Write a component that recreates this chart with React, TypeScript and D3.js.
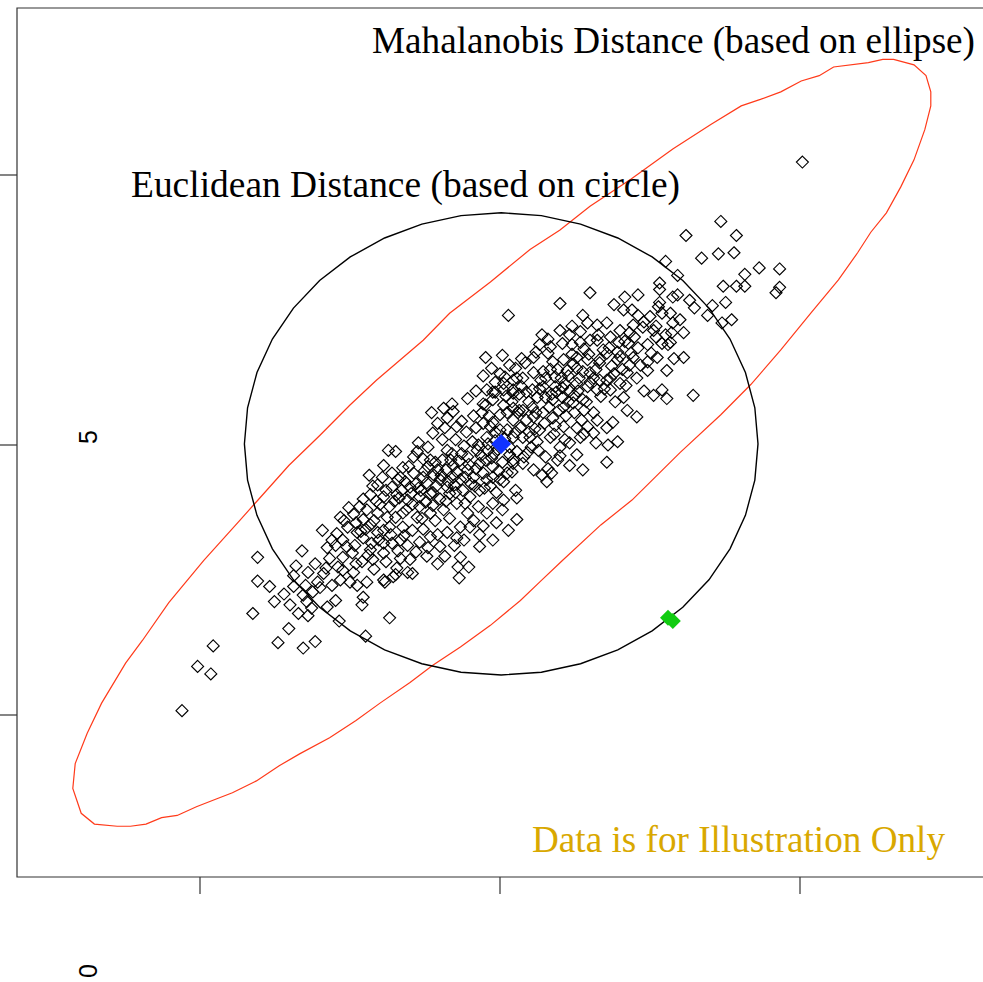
import { useEffect, useRef } from "react";
import * as d3 from "d3";

const W = 983;
const H = 982;

const X_TICKS = [2.5, 5, 7.5];
const Y_TICKS = [2.5, 5, 7.5];
const Y_LABELS = [5, 0];

const obsPoints = [
  [2.98,3.96],[3.35,4.02],[2.98,3.74],[3.08,3.69],[3.28,3.79],[3.28,3.69],[2.94,3.44],[3.24,3.30],[3.15,3.17],[3.36,3.12],
  [3.46,3.18],[3.40,3.42],[3.39,3.55],[3.43,3.49],[3.36,3.61],[2.61,3.14],[2.48,2.95],[2.59,2.88],[2.35,2.54],[3.56,3.50],
  [3.63,3.56],[3.66,3.37],[3.88,3.23],[4.08,3.40],[3.85,3.52],[3.86,3.59],[3.67,3.75],[3.69,3.84],[3.52,4.21],[3.56,4.05],
  [3.63,4.07],[3.53,3.81],[3.48,3.73],[3.50,3.68],[3.44,3.64],[3.75,3.73],[3.81,3.70],[3.89,3.73],[3.95,3.85],[4.03,3.75],
  [4.11,3.78],[4.14,3.86],[4.17,3.95],[3.94,3.94],[3.85,3.92],[3.77,4.00],[3.69,3.96],[3.65,3.87],[3.69,4.12],[3.79,4.07],
  [3.92,4.03],[4.03,4.09],[4.10,4.09],[4.17,4.12],[3.98,4.19],[3.81,4.19],[3.73,4.24],[3.92,4.26],[4.08,4.24],[4.19,4.24],
  [4.23,3.82],[3.86,4.14],[4.48,3.90],[4.65,3.87],[4.74,3.87],[4.66,3.77],[4.27,3.81],[4.13,3.80],[4.04,3.73],
  [4.73,5.43],[4.53,5.34],[4.61,5.31],[4.43,5.30],[4.56,5.25],[4.78,5.27],[4.86,5.38],[4.94,5.49],[5.03,5.57],[5.11,5.48],
  [4.64,5.17],[4.54,5.16],[4.44,5.11],[4.52,5.05],[4.63,5.05],[4.07,4.95],[4.13,4.94],[4.32,5.02],[4.31,4.94],[4.03,4.81],
  [4.19,4.79],[4.28,4.89],[4.42,4.86],[4.56,4.95],[3.91,4.72],[3.98,4.63],[4.10,4.61],[4.15,4.68],[4.25,4.61],[4.36,4.70],
  [4.48,4.77],[4.61,4.81],[4.73,4.89],[4.81,4.95],[4.89,5.07],[4.86,5.20],[4.94,5.21],[5.06,5.14],[5.11,5.23],[5.15,5.30],
  [5.08,4.98],[5.11,4.83],[5.06,4.74],[5.00,4.68],[5.13,4.58],[5.14,4.51],[5.02,4.40],[4.97,4.28],[5.07,4.21],[4.83,4.17],
  [4.75,4.24],[4.89,4.37],[4.82,4.43],[4.73,4.37],[4.67,4.24],[4.64,4.14],[4.56,4.19],[4.48,4.17],[4.50,4.06],[4.54,3.97],
  [4.39,3.97],[3.78,3.82],[3.93,4.09],[4.23,4.07],[4.33,4.10],[4.42,4.15],[4.27,4.21],[4.03,4.21],
  [3.74,4.42],[3.83,4.43],[3.92,4.54],[4.03,4.52],[4.14,4.54],[4.23,4.49],[4.33,4.52],[4.44,4.56],[4.56,4.61],[4.67,4.68],
  [4.78,4.70],[4.89,4.68],[4.94,4.80],[4.83,4.83],[4.73,4.77],[4.61,4.70],[4.50,4.68],[4.39,4.65],[4.28,4.74],[4.17,4.70],
  [4.08,4.43],[4.19,4.37],[4.31,4.33],[4.42,4.37],[4.53,4.40],[4.64,4.46],[4.75,4.52],[4.83,4.58],[4.97,4.56],[5.03,4.49],
  [4.94,4.46],[4.67,3.96],[4.83,4.06],[5.14,4.31],[4.94,4.12],[4.33,4.43],[4.13,4.33],[3.98,4.37],[3.86,4.31],[3.67,4.33],
  [3.60,4.12],[4.03,4.00],[4.25,3.94],
  [5.75,6.41],[5.50,6.31],[5.07,6.20],[6.04,6.37],[6.15,6.39],[6.33,6.32],[6.44,6.37],[6.03,6.25],[6.15,6.20],[6.25,6.19],
  [6.35,6.22],[6.44,6.13],[6.28,6.06],[6.19,6.09],[6.11,6.11],[5.69,6.20],[5.73,6.13],[5.81,6.11],[5.89,6.13],[6.00,6.06],
  [6.08,6.04],[6.43,6.04],[6.35,5.94],[6.40,5.93],[6.23,5.93],[6.15,5.90],[6.07,5.94],[5.98,5.86],[5.89,5.85],[5.81,5.97],
  [5.67,6.05],[5.58,6.02],[5.50,6.06],[5.35,6.02],[5.33,5.93],[5.42,5.91],[5.52,5.94],[5.60,5.93],[5.67,5.95],[5.75,5.97],
  [4.88,5.81],[5.02,5.83],[4.93,5.71],[5.13,5.71],[5.21,5.76],[5.28,5.81],[5.40,5.85],[5.44,5.77],[5.53,5.79],[5.64,5.81],
  [5.73,5.79],[5.83,5.76],[5.98,5.79],[6.11,5.81],[6.23,5.77],[6.31,5.81],[6.45,5.80],[6.39,5.69],[6.23,5.69],[6.14,5.62],
  [6.06,5.67],[6.00,5.57],[5.92,5.62],[5.83,5.60],[5.75,5.67],[5.64,5.71],[5.56,5.69],[5.46,5.63],[5.36,5.68],[5.28,5.67],
  [5.19,5.62],[5.11,5.60],[5.04,5.63],[4.96,5.58],[4.89,5.51],[4.96,5.49],[5.03,5.51],[5.11,5.51],[5.18,5.54],[5.27,5.51],
  [5.36,5.54],[5.46,5.54],[5.54,5.57],[5.64,5.57],[5.73,5.54],[5.81,5.51],[5.92,5.51],[6.03,5.44],[6.28,5.46],[6.35,5.51],
  [6.39,5.43],[6.06,5.32],[6.14,5.26],[5.94,5.21],[5.89,5.16],[5.98,5.03],[5.90,5.00],[5.89,4.84],[5.78,5.11],[5.81,5.23],
  [5.73,5.17],[5.64,5.16],[5.67,5.07],[5.58,5.02],[5.64,4.91],[5.58,4.81],[5.69,4.77],[5.48,4.86],[5.43,4.74],[5.35,4.72],
  [5.39,4.66],[5.28,4.77],[5.19,4.83],[5.11,4.86],[5.10,4.75],[5.03,4.66],[4.94,4.70],[5.50,4.98],[5.42,5.07],[5.33,5.14],
  [5.25,5.07],[5.17,5.16],[5.11,5.07],[5.53,5.17],[5.44,5.25],[5.36,5.30],[5.28,5.26],[5.19,5.32],[5.11,5.34],[5.03,5.37],
  [4.94,5.42],[4.88,5.37],[5.53,5.35],[5.61,5.39],[5.69,5.42],[5.44,5.42],[5.38,5.44],[5.52,5.44],[4.92,5.17],[4.90,4.95],
  [5.23,4.93],[5.32,4.95],
  [7.52,7.62],[6.84,7.07],[6.55,6.94],[6.97,6.94],[6.68,6.73],[6.82,6.77],[6.95,6.78],[6.38,6.70],[7.04,6.58],[7.16,6.64],
  [7.33,6.63],[6.48,6.57],[6.86,6.47],[6.97,6.47],[7.04,6.47],[7.33,6.46],[7.30,6.41],[6.33,6.50],[6.33,6.44],[6.88,6.32],
  [6.77,6.29],[6.73,6.20],[6.93,6.16],[6.85,6.13],[6.48,6.39],[6.58,6.34],[6.62,6.27],[6.50,6.16],[6.53,6.04],[6.42,5.95],
  [6.32,6.28],[6.42,6.22],[6.61,5.46],[6.53,5.81],
  [3.70,4.30],[3.78,4.36],[3.88,4.22],[3.95,4.30],[4.00,4.45],[4.06,4.33],[4.12,4.48],[4.18,4.58],[4.22,4.40],[4.26,4.55],
  [4.30,4.64],[4.34,4.58],[4.38,4.47],[4.40,4.80],[4.45,4.72],[4.47,4.62],[4.50,4.50],[4.52,4.86],[4.55,4.77],[4.58,4.55],
  [4.60,4.92],[4.62,4.63],[4.66,4.85],[4.69,4.58],[4.70,4.99],[4.72,5.12],[4.76,4.64],[4.77,5.03],[4.80,4.78],[4.80,5.16],
  [4.84,4.90],[4.85,5.30],[4.87,4.60],[4.90,5.01],[4.91,5.27],[4.93,4.88],[4.96,5.12],[4.98,4.96],[5.00,5.28],[5.02,4.84],
  [5.04,5.06],[5.05,5.45],[5.08,4.91],[5.10,5.40],[5.13,5.12],[5.14,4.94],[5.16,5.47],[5.19,5.07],[5.20,4.89],[5.22,5.23],
  [5.24,5.40],[5.26,4.98],[5.29,5.15],[5.31,5.44],[5.31,5.03],[5.34,5.60],[5.37,5.20],[5.38,4.89],[5.41,5.35],[5.42,5.70],
  [5.45,5.10],[5.47,5.49],[5.49,5.32],[5.51,5.62],[5.54,5.05],[5.55,5.27],[5.58,5.50],[5.60,5.84],[5.62,5.30],[5.66,5.62],
  [5.68,5.23],[5.70,5.89],[5.72,5.40],[5.75,5.58],[5.78,5.30],[5.80,5.70],[5.84,5.45],[5.86,5.88],[5.89,5.60],[5.93,5.73],
  [5.96,5.40],[5.99,5.95],[6.02,5.70],[6.05,5.55],[6.09,5.85],[6.12,6.00],[6.17,5.74],[6.20,5.50],[6.26,5.85],[6.30,6.00],
  [3.58,3.95],[3.64,4.18],[3.72,4.06],[3.80,3.90],[3.84,4.20],[3.90,3.98],[3.99,4.12],[4.05,3.92],[4.09,4.17],[4.15,4.02],
  [4.20,4.16],[4.30,4.01],[4.36,4.22],[4.40,4.05],[4.46,4.30],[4.58,4.32],[4.62,4.07],[4.70,4.12],[4.78,4.30],[4.86,4.25],
  [4.60,5.38],[4.68,5.22],[4.48,5.20],[4.40,4.98],[4.36,4.87],[4.24,4.80],[4.10,4.74],[4.02,4.70],[3.94,4.62],[3.86,4.50],
  [3.46,3.90],[3.40,3.82],[3.55,3.86],[3.60,3.70],[3.38,3.70],[3.30,3.88],[3.20,3.62],[3.12,3.55],[3.25,3.52],[3.32,3.44],
  [5.82,6.02],[5.92,6.00],[5.60,6.10],[5.40,5.98],[5.30,5.86],[5.18,5.80],[5.08,5.74],[5.00,5.66],[4.86,5.64],[4.80,5.50],
  [6.20,6.14],[6.30,6.10],[6.38,6.02],[6.10,6.25],[5.95,6.30],[5.62,5.46],[5.70,5.10],[5.80,5.02],[5.50,4.90],[5.40,4.78],
  [4.32,4.60],[4.37,4.76],[4.42,4.55],[4.46,4.84],[4.51,4.72],[4.57,4.66],[4.59,4.86],[4.64,4.75],[4.68,4.92],[4.71,4.70],
  [4.74,4.82],[4.79,4.62],[4.82,5.00],[4.86,4.74],[4.88,4.86],[4.92,4.62],[4.95,4.92],[4.99,4.76],[4.21,4.66],[4.16,4.51],
  [4.27,4.45],[4.35,4.32],[4.44,4.44],[4.55,4.48],[4.63,4.56],[4.71,4.46],[4.05,4.58],[3.97,4.48],[3.89,4.40],[3.80,4.28],
  [5.22,5.49],[5.27,5.35],[5.33,5.52],[5.38,5.62],[5.43,5.47],[5.48,5.70],[5.52,5.53],[5.57,5.64],[5.61,5.75],[5.65,5.50],
  [5.69,5.68],[5.74,5.84],[5.78,5.62],[5.83,5.79],[5.87,5.52],[5.91,5.90],[5.95,5.66],[6.00,5.82],[6.04,5.96],[6.08,5.74],
  [5.16,5.32],[5.24,5.12],[5.30,5.30],[5.46,5.18],[5.57,5.40],[5.70,5.32],[5.14,5.62],[5.06,5.30],[5.00,5.14],[4.96,5.04],
];

const centroid = [5.01, 5.01];
const testPoint = [[6.40, 3.40], [6.44, 3.37]];
const circleRadius = 2.14;

// mahalanobis contour
const ellipsePts = [
  [8.28,8.57],[8.19,8.57],[8.07,8.54],[7.78,8.50],[7.66,8.42],[7.51,8.37],[7.34,8.27],[7.17,8.20],[7.01,8.14],[6.76,7.97],
  [6.44,7.74],[6.09,7.46],[5.75,7.21],[5.50,6.99],[5.25,6.81],[4.92,6.51],[4.58,6.22],[4.36,5.97],[3.97,5.60],[3.75,5.37],
  [3.50,5.09],[3.24,4.81],[2.83,4.30],[2.53,3.93],[2.24,3.54],[2.02,3.19],[1.88,2.98],[1.68,2.61],[1.56,2.33],[1.46,2.05],
  [1.44,1.82],[1.51,1.59],[1.62,1.49],[1.81,1.47],[1.92,1.47],[2.05,1.49],[2.18,1.55],[2.31,1.57],[2.47,1.65],[2.63,1.72],
  [2.77,1.78],[2.97,1.89],[3.16,2.03],[3.33,2.14],[3.58,2.29],[3.80,2.45],[4.00,2.61],[4.25,2.80],[4.44,2.96],[4.67,3.13],
  [4.92,3.33],[5.17,3.56],[5.33,3.73],[5.52,3.93],[5.84,4.26],[6.10,4.49],[6.50,4.93],[6.84,5.28],[7.09,5.56],[7.34,5.88],
  [7.59,6.22],[7.82,6.53],[7.98,6.78],[8.09,6.97],[8.22,7.15],[8.34,7.39],[8.45,7.64],[8.54,7.92],[8.59,8.14],[8.59,8.27],
  [8.55,8.42],[8.45,8.52],
];

const TITLE_MAHAL = "Mahalanobis Distance (based on ellipse)";
const TITLE_EUCL = "Euclidean Distance (based on circle)";
const NOTE = "Data is for Illustration Only";

const SERIF = "'Liberation Serif', 'Times New Roman', Times, serif";
const SANS = "'Liberation Sans', Arial, Helvetica, sans-serif";

export default function App() {
  const ref = useRef(null);

  useEffect(() => {
    const svg = d3.select(ref.current);
    svg.selectAll("*").remove();

    const x = d3.scaleLinear().domain([2.5, 7.5]).range([200, 800]);
    const y = d3.scaleLinear().domain([2.5, 7.5]).range([715, 175]);

    const left = 17;
    const top = 8;
    const bottom = 877;

    svg.append("rect").attr("width", W).attr("height", H).attr("fill", "#fff");

    // frame (right side is outside the picture)
    svg.append("path")
      .attr("d", `M${W},${top}H${left}V${bottom}H${W}`)
      .attr("fill", "none")
      .attr("stroke", "#333")
      .attr("stroke-width", 1.2);

    svg.append("g").selectAll("line").data(Y_TICKS).join("line")
      .attr("x1", 0).attr("x2", left)
      .attr("y1", (d) => y(d)).attr("y2", (d) => y(d))
      .attr("stroke", "#333").attr("stroke-width", 1.2);

    svg.append("g").selectAll("line").data(X_TICKS).join("line")
      .attr("x1", (d) => x(d)).attr("x2", (d) => x(d))
      .attr("y1", bottom).attr("y2", bottom + 17)
      .attr("stroke", "#333").attr("stroke-width", 1.2);

    // the "0" label sits at the bottom edge; nudge it so it stays inside
    svg.append("g").selectAll("text").data(Y_LABELS).join("text")
      .attr("transform", (d) => `translate(97,${Math.min(y(d) - 8, H - 11)}) rotate(-90)`)
      .attr("text-anchor", "middle")
      .attr("font-family", SANS)
      .attr("font-size", 25)
      .attr("fill", "#000")
      .text((d) => String(d));

    // mahalanobis ellipse
    const line = d3.line().x((d) => x(d[0])).y((d) => y(d[1])).curve(d3.curveLinearClosed);
    svg.append("path")
      .attr("d", line(ellipsePts))
      .attr("fill", "none")
      .attr("stroke", "#ff3a1a")
      .attr("stroke-width", 1.2);

    // euclidean circle around the centroid
    const circ = d3.range(0, 40).map((i) => {
      const a = (i / 40) * Math.PI * 2;
      return [centroid[0] + circleRadius * Math.cos(a), centroid[1] + circleRadius * Math.sin(a)];
    });
    svg.append("path")
      .attr("d", line(circ))
      .attr("fill", "none")
      .attr("stroke", "#000")
      .attr("stroke-width", 1.4);

    const diamond = (r) => `M0,${-r}L${r},0L0,${r}L${-r},0Z`;

    svg.append("g").selectAll("path").data(obsPoints).join("path")
      .attr("transform", (d) => `translate(${x(d[0])},${y(d[1])})`)
      .attr("d", diamond(6))
      .attr("fill", "none")
      .attr("stroke", "#000")
      .attr("stroke-width", 1.15);

    svg.append("path")
      .attr("transform", `translate(${x(centroid[0])},${y(centroid[1])})`)
      .attr("d", diamond(10))
      .attr("fill", "#1133ff");

    svg.append("g").selectAll("path").data(testPoint).join("path")
      .attr("transform", (d) => `translate(${x(d[0])},${y(d[1])})`)
      .attr("d", diamond(8))
      .attr("fill", "#11cc11");

    const label = (txt, tx, ty, len, color) =>
      svg.append("text")
        .attr("x", tx).attr("y", ty)
        .attr("font-family", SERIF)
        .attr("font-size", 37)
        .attr("fill", color)
        .attr("textLength", len)
        .attr("lengthAdjust", "spacingAndGlyphs")
        .text(txt);

    label(TITLE_MAHAL, 372, 53, 603, "#000");
    label(TITLE_EUCL, 131, 197, 549, "#000");
    label(NOTE, 532, 852, 413, "#d9a800");
  }, []);

  return (
    <svg
      ref={ref}
      width={W}
      height={H}
      style={{ position: "absolute", left: 0, top: 0, display: "block" }}
    />
  );
}
